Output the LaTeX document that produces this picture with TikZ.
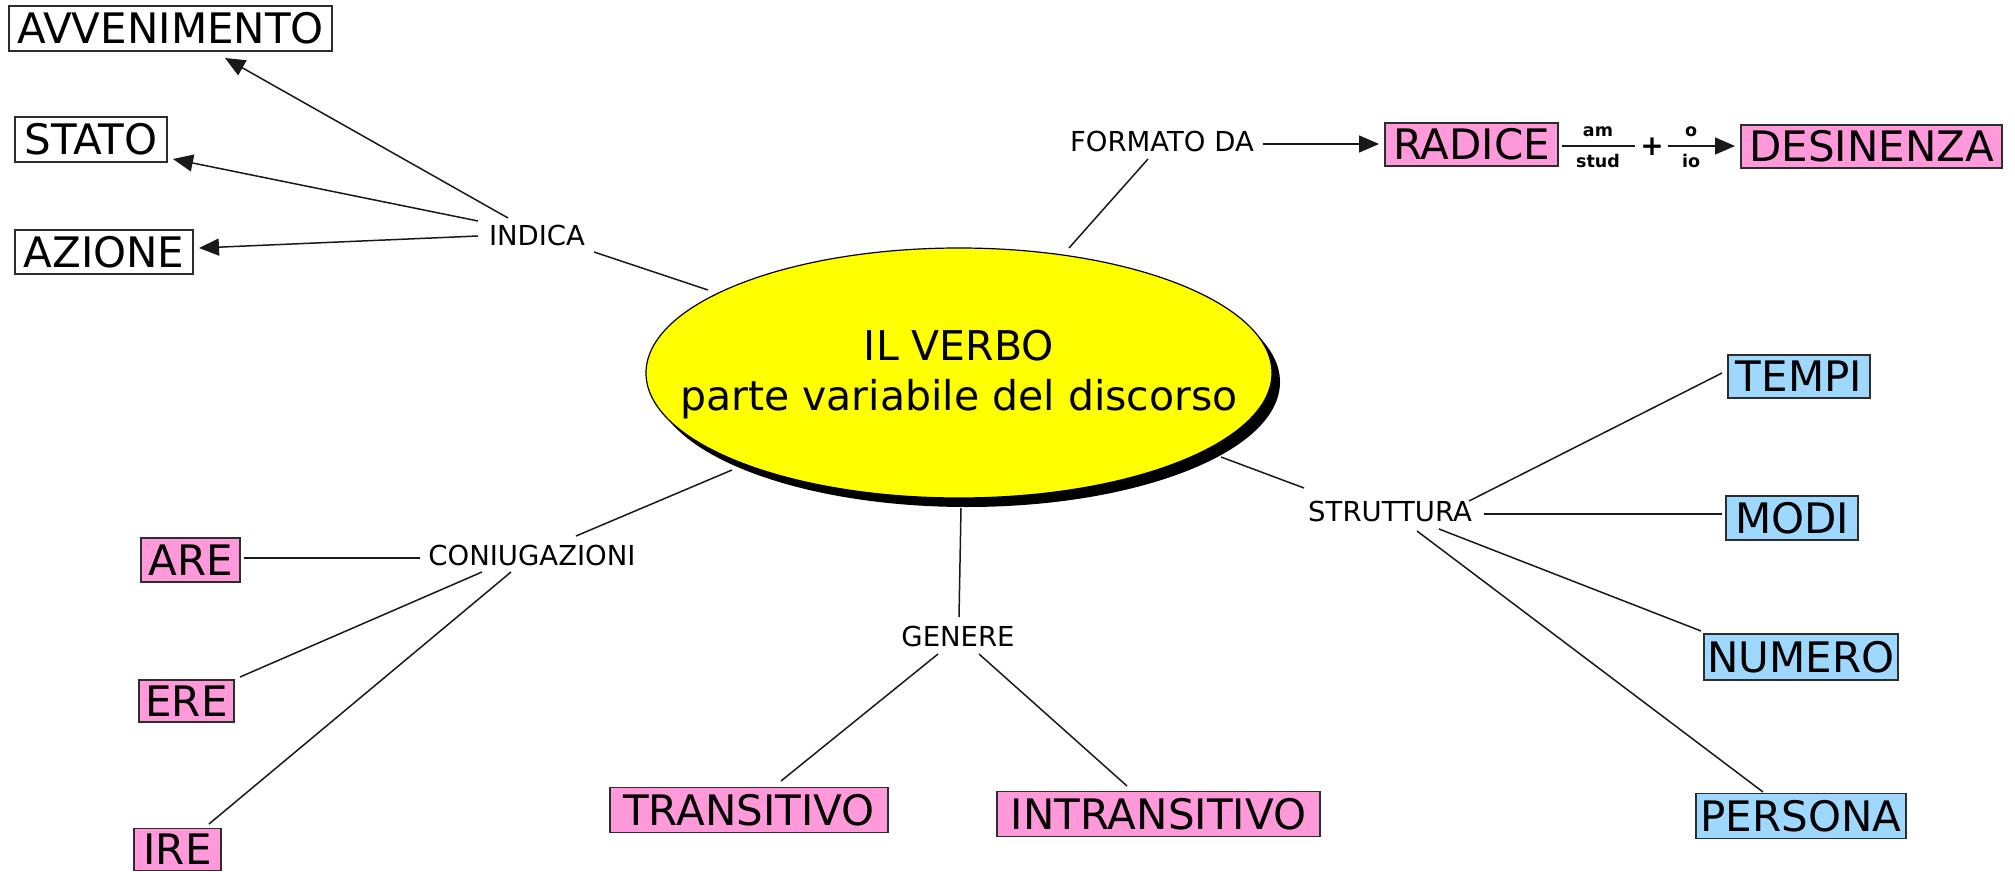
\documentclass[tikz,border=0pt]{standalone}
\usepackage{fontspec}
\setmainfont{DejaVu Sans}
\usetikzlibrary{shapes.geometric,arrows.meta}
\definecolor{pinkfill}{RGB}{255,153,218}
\definecolor{bluefill}{RGB}{158,216,255}
\definecolor{boxline}{RGB}{45,45,45}
\definecolor{verboyellow}{RGB}{255,255,0}
\begin{document}
\begin{tikzpicture}[x=1pt,y=-1pt,
  box/.style={draw=boxline, line width=1.3pt, inner sep=0pt, font=\fontsize{42}{42}\selectfont},
  pinkbox/.style={box, fill=pinkfill},
  bluebox/.style={box, fill=bluefill},
  plainbox/.style={box, fill=white},
  lbl/.style={inner sep=0pt, font=\fontsize{27.5}{27.5}\selectfont},
  smalllbl/.style={inner sep=0pt, font=\bfseries\fontsize{17.5}{17.5}\selectfont},
  conn/.style={line width=1.5pt, draw=black!90},
  arr/.style={conn, -{Triangle[length=20pt,width=17pt]}},
]
\fill[white] (0,0) rectangle (2015,872);
\useasboundingbox (0,0) rectangle (2015,872);

% central ellipse with shadow
\fill[black] (967,382) ellipse [x radius=313pt, y radius=125pt];
\node[ellipse, draw=black, line width=1.2pt, fill=verboyellow, inner sep=0pt,
      minimum width=626pt, minimum height=250pt] (verbo) at (959,373) {};
\node[inner sep=0pt, align=center, font=\fontsize{41}{50}\selectfont] (verbotext) at (959,375)
      {IL VERBO\\parte variabile del discorso};

% boxes
\node[plainbox, minimum width=323pt, minimum height=45pt] (avv) at (170.5,28.5) {AVVENIMENTO};
\node[plainbox, minimum width=152pt, minimum height=45pt] (stato) at (91,139.5) {STATO};
\node[plainbox, minimum width=178pt, minimum height=44pt] (azione) at (104,252) {AZIONE};
\node[pinkbox, minimum width=173pt, minimum height=43pt] (radice) at (1471.5,144.5) {RADICE};
\node[pinkbox, minimum width=261pt, minimum height=43pt] (desin) at (1871.5,146.5) {DESINENZA};
\node[bluebox, minimum width=142pt, minimum height=43pt] (tempi) at (1799,376.5) {TEMPI};
\node[bluebox, minimum width=132pt, minimum height=44pt] (modi) at (1792,518) {MODI};
\node[bluebox, minimum width=194pt, minimum height=46pt] (numero) at (1801,657) {NUMERO};
\node[bluebox, minimum width=210pt, minimum height=45pt] (persona) at (1801,816) {PERSONA};
\node[pinkbox, minimum width=99pt, minimum height=44pt] (are) at (190.5,560) {ARE};
\node[pinkbox, minimum width=95pt, minimum height=42pt] (ere) at (186.5,701) {ERE};
\node[pinkbox, minimum width=87pt, minimum height=42pt] (ire) at (177.5,849.5) {IRE};
\node[pinkbox, minimum width=278pt, minimum height=45pt] (trans) at (749,810) {TRANSITIVO};
\node[pinkbox, minimum width=323pt, minimum height=45pt] (intrans) at (1158.5,814) {INTRANSITIVO};

% linking labels
\node[lbl] (indica) at (537,235) {INDICA};
\node[lbl] (formato) at (1162,141) {FORMATO DA};
\node[lbl] (strutt) at (1390,511) {STRUTTURA};
\node[lbl] (coniug) at (532,555) {CONIUGAZIONI};
\node[lbl] (genere) at (958,636) {GENERE};

% small labels of the formula
\node[inner sep=0pt, font=\bfseries\fontsize{28}{28}\selectfont] (plus) at (1652,147) {+};
\node[smalllbl] (am) at (1598,132) {am};
\node[smalllbl] (stud) at (1598,161) {stud};
\node[smalllbl] (o) at (1691,131.5) {o};
\node[smalllbl] (io) at (1691,161) {io};

% connectors
\draw[arr] ([shift={(-29,-17)}]indica.center) -- ([shift={(54.5,29.5)}]avv.center);
\draw[arr] ([shift={(-59,-14)}]indica.center) -- ([shift={(82,19.5)}]stato.center);
\draw[arr] ([shift={(-59,1)}]indica.center) -- ([shift={(95,-4)}]azione.center);
\draw[conn] ([shift={(-251,-83)}]verbo.center) -- ([shift={(57,17)}]indica.center);

\draw[conn] ([shift={(110,-125)}]verbo.center) -- ([shift={(-14,18)}]formato.center);
\draw[arr] ([shift={(101,3)}]formato.center) -- ([shift={(-92.5,-0.5)}]radice.center);
\draw[conn] ([shift={(90.5,1.5)}]radice.center) -- ([shift={(-17,-1)}]plus.center);
\draw[arr] ([shift={(16,-1)}]plus.center) -- ([shift={(-136.5,-0.5)}]desin.center);

\draw[conn] ([shift={(262,84)}]verbo.center) -- ([shift={(-86,-23)}]strutt.center);
\draw[conn] ([shift={(79,-10)}]strutt.center) -- ([shift={(-77,-3.5)}]tempi.center);
\draw[conn] ([shift={(94,3)}]strutt.center) -- ([shift={(-70,-4)}]modi.center);
\draw[conn] ([shift={(49,18)}]strutt.center) -- ([shift={(-100,-26)}]numero.center);
\draw[conn] ([shift={(27,20)}]strutt.center) -- ([shift={(-38,-24)}]persona.center);

\draw[conn] ([shift={(-227,97)}]verbo.center) -- ([shift={(44,-19)}]coniug.center);
\draw[conn] ([shift={(-112,3)}]coniug.center) -- ([shift={(53.5,-2)}]are.center);
\draw[conn] ([shift={(-50,17)}]coniug.center) -- ([shift={(53.5,-24)}]ere.center);
\draw[conn] ([shift={(-21,17)}]coniug.center) -- ([shift={(31.5,-25.5)}]ire.center);

\draw[conn] ([shift={(2,135)}]verbo.center) -- ([shift={(1,-19)}]genere.center);
\draw[conn] ([shift={(-20,18)}]genere.center) -- ([shift={(32,-29)}]trans.center);
\draw[conn] ([shift={(21,18)}]genere.center) -- ([shift={(-31.5,-28)}]intrans.center);
\end{tikzpicture}
\end{document}
